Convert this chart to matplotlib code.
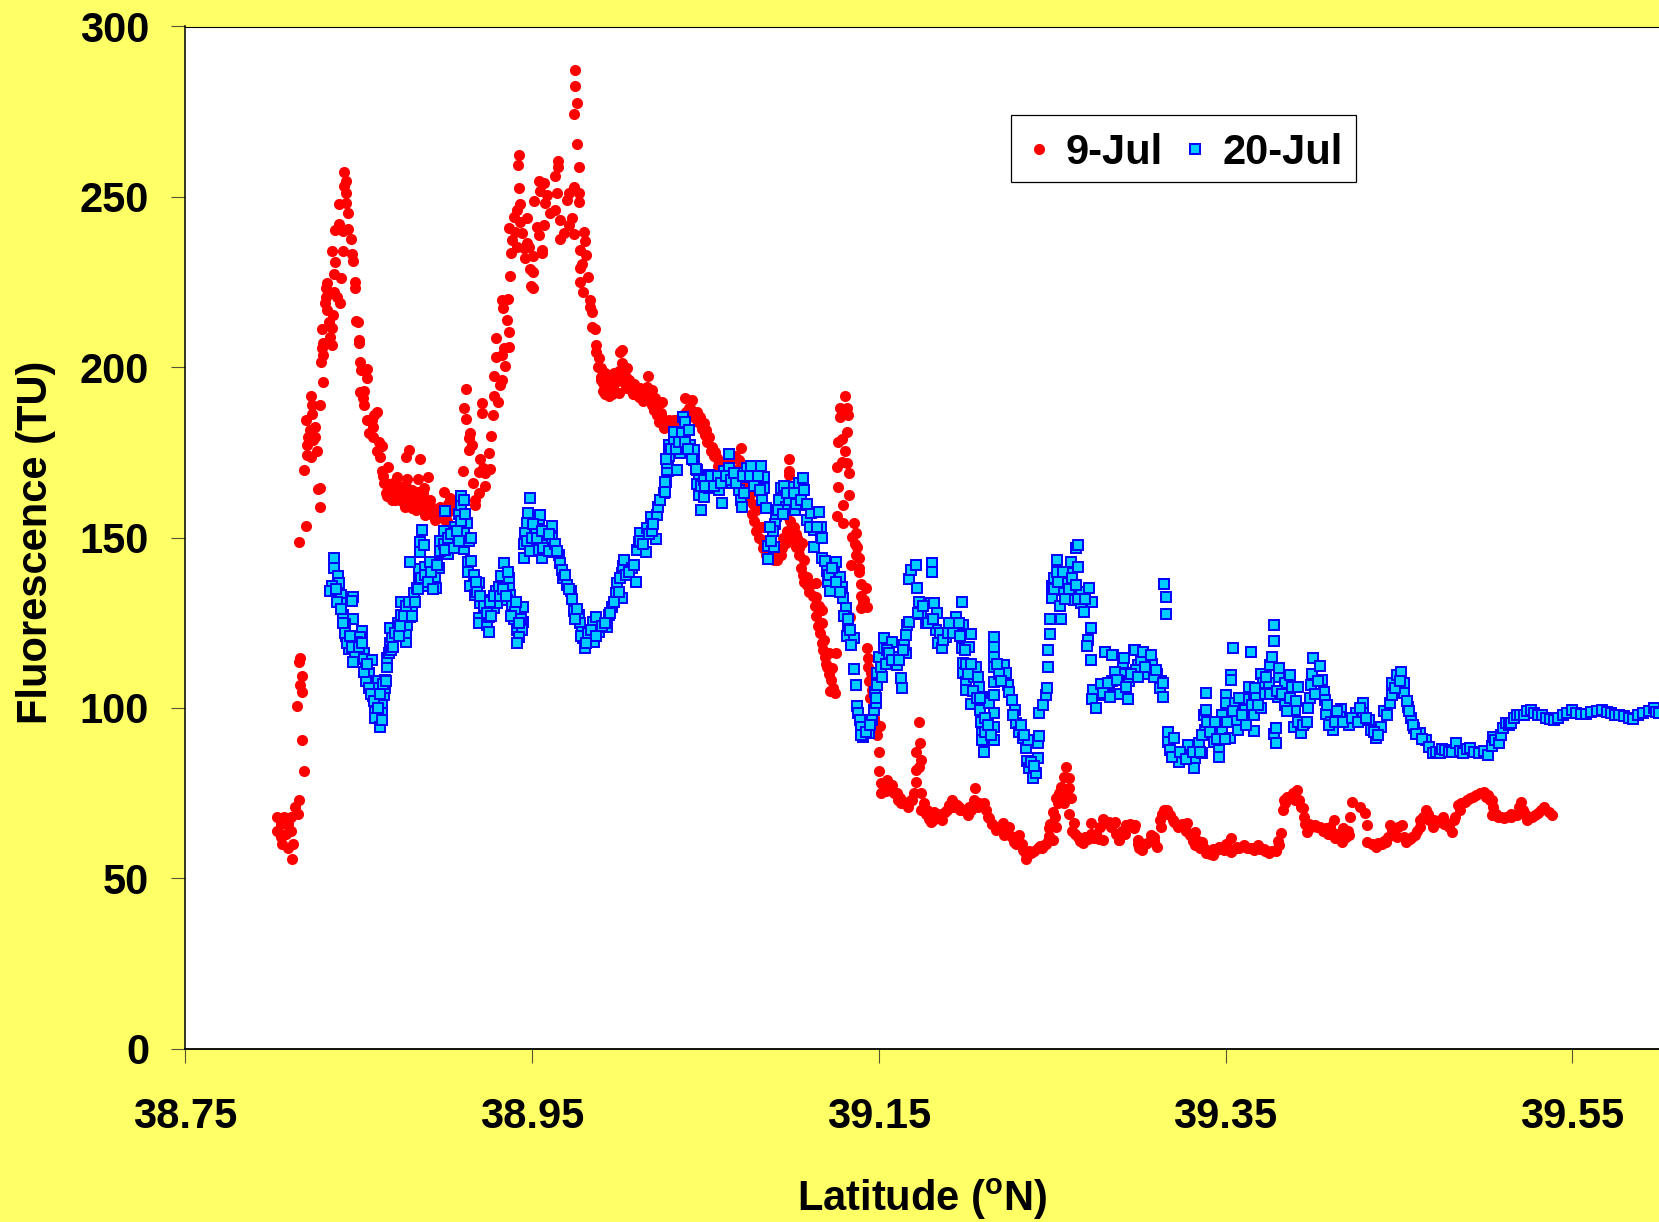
#!/usr/bin/env python3
"""Fluorescence vs latitude for two survey dates (values read off the original chart)."""

import matplotlib
matplotlib.use("Agg")
import matplotlib.pyplot as plt

BG = "#FFFF66"

# (latitude, fluorescence) readings, 9-Jul, south to north
red_south = [(38.8114,55.6),(38.806,60),(38.809,59),(38.812,60),(38.805,62),(38.808,63),(38.803,64),(38.811,64),
 (38.805,66),(38.809,66),(38.803,68),(38.807,68),(38.811,68),(38.815,69),(38.813,71),(38.8153,73),
 (38.8184,81.4),(38.8174,90.7),(38.8143,100.6),(38.8174,104.6),(38.8163,106.7),(38.8174,109.3),(38.8163,114.6),(38.8153,113.4),
 (38.8155,148.7),(38.8195,153.3),(38.8276,159),(38.8266,164.3),(38.8276,164.7),(38.8184,169.9)]
red_peak1 = [(38.8224,173.8),(38.82,174.2),(38.8262,175.5),(38.82,177.2),(38.8239,178.7),(38.821,179.6),(38.8249,179.6),(38.822,181.6),
 (38.8249,182.6),(38.8195,184.4),(38.8233,186.3),(38.8278,188.9),(38.8229,188.9),(38.8224,191.6),(38.8297,195.8),(38.8285,201.4),
 (38.8297,203.6),(38.8287,205.6),(38.8297,207.2),(38.8349,206.5),(38.8335,209),(38.8287,211.1),(38.8345,211.4),(38.8326,213.4),
 (38.835,215.4),(38.8316,216.8),(38.8393,218.8),(38.8306,218.8),(38.831,220.7),(38.8374,220.7),(38.8358,222.2),(38.8312,223.2),
 (38.8316,224.8),(38.8397,226.2),(38.8355,227.3),(38.848,223.2),(38.848,225.1),(38.847,231.3),(38.8364,230.8),(38.8345,234),
 (38.8408,234.1),(38.846,233.2),(38.8364,240.3),(38.8389,241.9),(38.8412,240.1),(38.8441,240.6),(38.8455,237.6),(38.8389,247.9),
 (38.8428,248.3),(38.8439,245.4),(38.8426,251),(38.8416,253.2),(38.8426,254.8),(38.8416,257.2)]
red_trough = [(38.8495,213.4),(38.8485,213.7),(38.8499,208),(38.8499,207),(38.851,201.5),(38.8514,199.2),(38.855,199.4),(38.855,196.7),
 (38.8509,192.6),(38.8532,193.1),(38.8524,190.9),(38.8532,188.9),(38.8603,187),(38.8586,186),(38.8547,184.5),(38.8576,184.5),
 (38.8582,182.6),(38.8559,180.8),(38.8582,179.6),(38.8618,178.2),(38.8634,176.9),(38.8605,175.5),(38.8624,173.8),(38.8793,175.7),
 (38.8774,173.6),(38.8855,173),(38.8672,170.8),(38.8634,169.4),(38.8647,165.9),(38.872,167.9),(38.8778,167.1),(38.8897,167.9),
 (38.884,167.1),(38.8874,164.5),(38.8663,162.2),(38.8701,163),(38.874,161),(38.8797,162),(38.8836,160.5),(38.8759,160.1),
 (38.8807,158.6),(38.872,164),(38.8778,164.5),(38.8845,163.5),(38.8884,160.5),(38.8913,159.6),(38.8903,157.1),(38.8942,155.2),
 (38.899,163.5),(38.9028,161.5),(38.8971,159.1),(38.9,155.2),(38.9009,157.1),(38.8951,156.1),(38.868,165),(38.869,161),
 (38.8755,163.5),(38.882,161),(38.886,158.5),(38.892,157),(38.9035,158),(38.9015,160),
 (38.864,168),(38.866,166),(38.868,164),(38.870,166),(38.871,161),(38.873,165),(38.875,163),(38.877,159),(38.879,160),(38.881,164),
 (38.883,158),(38.885,161),(38.887,163),(38.889,158),(38.891,161),(38.893,158),(38.895,158),(38.897,156),(38.899,157),(38.901,155),
 (38.903,158),(38.905,160),(38.866,163),(38.878,162),(38.882,159),(38.888,156.5)]
red_peak2 = [(38.917,159.6),(38.9172,161),(38.9192,163),(38.9159,166.1),(38.923,165.2),(38.9101,169.4),(38.9192,169.2),(38.923,168.9),
 (38.9259,170.1),(38.9217,170.3),(38.9202,173),(38.9253,174.9),(38.9134,175.7),(38.9153,177.2),(38.9134,179.2),(38.9144,180.8),
 (38.9263,179.8),(38.9121,184.8),(38.911,187.9),(38.9121,193.6),(38.9211,186.5),(38.9211,189.6),(38.9273,185.9),(38.9304,189.9),
 (38.9282,191.6),(38.9313,194.8),(38.9278,197.3),(38.9327,196.3),(38.9346,200.4),(38.9294,203.1),(38.9327,203.6),(38.9365,206),
 (38.934,205.6),(38.9294,208.7),(38.9365,210.2),(38.9356,213.9),(38.9332,217.5),(38.9327,219.8),(38.9359,220.1),(38.9375,226.8),
 (38.9381,233.6),(38.9413,235.4),(38.9384,237.4),(38.9365,240.8),(38.9404,239.8),(38.9442,239.3),(38.9471,236.4),(38.9452,234.9),
 (38.9481,235.4),(38.9461,232),(38.9506,232.5),(38.9486,228.8),(38.9506,227.9),(38.9494,223.9),(38.9506,223.2),(38.9558,234.4),
 (38.9558,233.4),(38.9538,238.8),(38.9567,241.8),(38.9529,241.3),(38.9471,243.7),(38.9433,242.7),(38.9394,244.2),(38.9413,246.2),
 (38.9433,247.9),(38.9425,252.6),(38.9417,259.3),(38.9425,262.4),(38.9513,248.9),(38.9548,251.8),(38.9538,254.7),(38.9571,254.2),
 (38.9577,248.1),(38.9606,245.2),(38.9587,250.6),(38.9635,246.2),(38.9644,251.1),(38.9635,256),(38.9648,258.9),(38.9648,260.4),
 (38.966,243.2),(38.966,237.7),(38.9683,239.3),(38.9712,241.8),(38.9731,243.7),(38.9702,249.1),(38.9712,251.1),(38.9741,253),
 (38.9769,251.1),(38.9773,248.5),(38.9741,239.1),(38.9771,258.8),(38.976,265.4),(38.974,274.4),(38.976,277.5),(38.975,282.6),(38.975,287.3)]
red_shelf = [(38.9802,239.8),(38.9808,237.1),(38.9779,234.4),(38.9814,233),(38.9789,230.3),(38.9779,229),(38.9821,226.4),(38.9779,225.1),
 (38.9792,222.2),(38.9833,219.6),(38.9833,217.8),(38.9845,216.3),(38.9846,211.9),(38.9862,211.1),(38.9871,206.5),(38.9866,204.6),
 (38.9885,202.6),(39.0021,205.1),(39.001,204.4),(38.9895,199.7),(38.9923,198.2),(38.9895,196.3),(38.9933,194.3),(38.9943,191.6),
 (38.9971,198.2),(38.9962,195.3),(39.0,192.3),(39.002,201.2),(39.0049,199.7),(39.001,197.2),(39.0058,196.3),(39.0068,193.3),
 (39.0116,191.4),(39.017,197.3),(39.0164,194.3),(39.0135,192.8),(39.0193,193.3),(39.0212,189.4),(39.025,189.9),(39.0203,187.5),
 (39.0241,186.5),(39.026,182.1),(39.0289,184.5),(39.0337,184.5),(38.991,193),(38.995,193),(38.998,196),(39.004,194),
 (39.009,195),(39.0095,192),(39.0155,191),(39.0225,187),
 (38.988,200),(38.990,197),(38.991,195.5),(38.992,192),(38.994,195),(38.995,197),(38.996,192),(38.997,195),(38.999,196),(39.0,199),
 (39.002,196),(39.003,198),(39.004,197),(39.006,194),(39.008,192),(39.010,193),(39.012,194),(39.014,190),(39.015,193),(39.018,192),
 (39.019,189),(39.021,191),(39.022,186),(39.023,184),(39.025,185),(39.027,184),(39.03,183),(39.032,183),(39.035,183),(39.037,186)]
red_descent = [(39.0164,193.3),(39.024,189.4),(39.0202,187.5),(39.026,182.6),(39.0318,184.5),(39.0385,190.9),(39.0423,190.4),(39.0452,187),
 (39.0491,183.6),(39.052,179.6),(39.0539,176.7),(39.0568,173.3),(39.0587,171.3),(39.0703,176.2),(39.0693,172.8),(39.0635,171.8),
 (39.0722,169.8),(39.076,163),(39.0789,158.1),(39.0808,153.2),(39.0828,149.3),(39.0895,143.4),(39.0934,144.9),(39.0962,148.3),
 (39.0982,173),(39.0982,169.4),(39.0982,168.4),(39.0991,165),(39.0962,156.6),(39.1011,153.2),(39.102,147.3),(39.1058,148.3),
 (39.1068,143.4),(39.1087,138.5),(39.1087,136.1),(39.1135,136.6),(39.1135,132.7),(39.1174,128.8),(39.1174,124.8),(39.1184,119.9),
 (39.1213,116),(39.1251,116),(39.1232,111.6),(39.1222,108.2),(39.1245,104.3),(39.0405,188),(39.0437,185),(39.047,185.5),
 (39.0505,181.5),(39.0553,175),(39.0775,160),(39.083,153),(39.0855,147),(39.0875,144),(39.1,150),(39.104,145),
 (39.11,134),(39.1155,130),(39.1195,113),(39.1235,106),
 (39.039,187),(39.041,188),(39.044,186),(39.046,184),(39.048,182),(39.05,180),(39.051,178),(39.053,175.5),(39.055,174),(39.057,171),
 (39.06,170),(39.062,172),(39.065,173),(39.067,174),(39.069,170),(39.071,167),(39.073,165),(39.075,161),(39.077,157),(39.078,155),
 (39.079,152),(39.081,150),(39.083,147),(39.085,145),(39.087,144),(39.091,143.5),(39.092,146),(39.094,147),(39.095,150),(39.097,152),
 (39.099,155),(39.1,151),(39.102,151),(39.103,150),(39.104,147),(39.105,141),(39.106,139),(39.107,137),(39.109,136),(39.111,136.5),
 (39.112,133),(39.113,130),(39.114,127),(39.115,124),(39.116,122),(39.117,119),(39.118,117),(39.119,115),(39.12,112),(39.121,110),(39.122,105)]
red_spike = [(39.1307,191.7),(39.1276,188),(39.1318,188),(39.1276,185.3),(39.1322,186),(39.1318,180.9),(39.1265,178.2),(39.129,178.8),
 (39.1307,175.5),(39.1286,172.3),(39.1318,172),(39.1261,170.8),(39.1328,169.1),(39.1267,164.8),(39.1328,162.5),(39.1295,159.5),
 (39.1257,156.4),(39.1295,154.2),(39.1357,154.4),(39.1367,151.3),(39.1347,150.3),(39.1376,147.3),(39.1386,143.9),(39.1338,142),
 (39.1388,139.8),(39.1395,136.4),(39.1424,135.1),(39.1415,131.7),(39.1395,129.2),(39.1434,129.7),(39.1334,126.8),(39.143,117.7),
 (39.144,114.6),(39.1453,110.2),(39.1463,105.3),(39.1473,100.4),(39.1507,94.7),
 (39.136,148),(39.137,145),(39.1385,141),(39.14,133),(39.141,131),(39.1435,112),(39.1445,108),(39.145,103),(39.147,97),(39.148,95.5),(39.149,92)]
red_plateau = [(39.1734,95.9),(39.1501,87.2),(39.1499,81.5),(39.1511,77.9),(39.1515,74.9),(39.155,78.9),(39.1578,77.4),(39.1607,74.9),
 (39.1646,72.5),(39.1665,72),(39.1704,74.9),(39.1713,78.4),(39.1732,82.8),(39.1713,81.8),(39.1742,84.7),(39.1713,87.2),
 (39.1738,89.6),(39.1761,72),(39.1742,70),(39.18,66.6),(39.1819,69.6),(39.1867,67.1),(39.1896,70),(39.1925,73),
 (39.1963,71),(39.2012,68.6),(39.2021,71),(39.2056,76.4),(39.205,73),(39.2108,72),(39.2137,67.6),(39.2175,64.2),
 (39.2214,66.1),(39.2252,65.2),(39.2223,62.7),(39.231,62.7),(39.2281,60.7),(39.2329,58.3),(39.2348,55.6),(39.2377,57.3),
 (39.2416,58.8),(39.2454,59.8),(39.2502,61.2),(39.2483,64.7),(39.2522,65.2),(39.2502,69.6),(39.2522,73.5),(39.2551,76.9),
 (39.2608,73.5),(39.2599,76.4),(39.2599,79.3),(39.2566,79.8),(39.258,82.8),(39.2599,69),(39.2628,66.1),(39.2647,62.2),
 (39.2676,60.3),(39.2724,66.1),(39.2743,61.7),(39.2791,61.2),(39.2791,67.3),(39.2859,66.1),(39.2887,61.2),(39.2926,65.6),
 (39.2974,64.7),(39.3003,58.8),(39.1532,76),(39.1625,73.5),(39.1685,73),(39.178,70),(39.1845,68),(39.1905,71.5),
 (39.199,70),(39.208,72),(39.2155,66),(39.2195,64.5),(39.2265,62.5),(39.2365,58),(39.244,59),(39.248,62.5),
 (39.2665,61),(39.2705,61.5),(39.277,61.5),(39.2825,66.5),(39.2905,64),
 (39.1525,78),(39.154,75.5),(39.156,76),(39.159,75),(39.161,73),(39.163,72),(39.167,71),(39.169,73),(39.1745,75),(39.177,69),
 (39.179,67.5),(39.181,67),(39.183,68),(39.186,69),(39.188,69.5),(39.191,71),(39.193,71),(39.195,71.5),(39.197,70),(39.1995,70),
 (39.203,70),(39.204,71),(39.207,71),(39.209,71.5),(39.212,70),(39.213,68),(39.215,66),(39.218,65),(39.2235,64),(39.227,62),
 (39.229,60),(39.23,61),(39.2325,60),(39.234,58),(39.235,57),(39.2395,58),(39.243,59.5),(39.2465,60),(39.2475,61),(39.249,66),
 (39.2515,68),(39.2535,72),(39.254,75),(39.2565,75),(39.257,72),(39.2615,64),(39.263,63),(39.266,61),(39.269,62),(39.2725,63),
 (39.275,63),(39.2775,65),(39.284,65),(39.287,63),(39.2895,63),(39.292,63),(39.295,66),(39.2995,60)]
red_north = [(39.2863,66.6),(39.2884,61.2),(39.2925,65.7),(39.2977,65.7),(39.3018,58.3),(39.2997,61.2),(39.3069,62.7),(39.3106,59.3),
 (39.3121,67.1),(39.3147,70),(39.3182,68.6),(39.3223,65.2),(39.3275,66.2),(39.3295,62.7),(39.3326,63.7),(39.3326,59.8),
 (39.3367,60.8),(39.3388,57.3),(39.3429,56.8),(39.346,59.3),(39.3491,58.3),(39.3532,61.7),(39.3532,57.8),(39.3604,59.8),
 (39.3666,58.3),(39.3687,59.8),(39.3748,57.3),(39.3789,58.3),(39.382,63.2),(39.381,59.8),(39.3831,70),(39.3862,73.5),
 (39.3913,75.9),(39.3903,73),(39.3944,70.5),(39.3954,68.1),(39.397,63.7),(39.4016,65.7),(39.4078,64.7),(39.4123,67.1),
 (39.4129,61.7),(39.418,64.7),(39.417,60.8),(39.4211,62.7),(39.4215,67.9),(39.4228,72.5),(39.4273,71),(39.4304,69.1),
 (39.4314,65.7),(39.4314,60.8),(39.4366,59.3),(39.4428,60.8),(39.4448,65.7),(39.452,65.7),(39.454,60.8),(39.4592,62.7),
 (39.4623,67.1),(39.4654,70),(39.4695,65.2),(39.4757,68.1),(39.4808,63.7),(39.4818,67.1),(39.4839,71.5),(39.488,72.5),
 (39.4942,74.5),(39.4993,75.4),(39.5034,73),(39.5034,68.6),(39.5106,67.6),(39.5179,68.6),(39.5205,72.5),(39.524,67.1),
 (39.5302,69.1),(39.5339,70.8),(39.5384,68.6),(39.3045,60.5),(39.309,62),(39.3165,69),(39.3205,66.5),(39.325,66),
 (39.331,62),(39.335,59),(39.341,57),(39.344,58),(39.351,59),(39.3565,59.3),(39.3635,59),(39.372,58.5),
 (39.3845,72),(39.389,75),(39.3925,73),(39.399,65),(39.4045,65),(39.41,65),(39.415,63),(39.4195,62),
 (39.4345,60),(39.44,60),(39.4475,64.5),(39.4495,65),(39.4565,61.5),(39.4605,64),(39.4675,67),(39.4725,66.5),
 (39.478,66),(39.486,72),(39.491,73.5),(39.4965,75),(39.5015,74.5),(39.507,68),(39.5145,68),(39.5225,69),(39.527,68),(39.5365,69.5),
 (39.3035,60),(39.3085,61),(39.3125,65),(39.3135,69),(39.316,70),(39.3195,67),(39.3245,65.5),(39.327,64),(39.3315,61),(39.334,61),
 (39.3375,59),(39.34,58),(39.343,58.5),(39.3475,58.5),(39.35,60),(39.355,58.5),(39.358,59),(39.3625,59),(39.365,59),(39.37,58.7),
 (39.3725,58),(39.376,58),(39.379,58),(39.3805,61),(39.3835,73),(39.3855,74),(39.388,74),(39.3935,71),(39.396,66),(39.398,66),
 (39.4,65.5),(39.403,65),(39.406,64),(39.409,63),(39.411,64),(39.4135,63),(39.4165,62),(39.419,62),(39.4205,64),(39.438,60.5),
 (39.4415,61),(39.4435,62),(39.446,64),(39.449,62),(39.453,62),(39.4575,62),(39.462,65),(39.464,68),(39.4665,69),(39.4705,67),
 (39.474,67),(39.476,66),(39.479,65),(39.4825,68),(39.485,70),(39.4895,73),(39.4925,74),(39.4975,75),(39.5,74),(39.5025,73),
 (39.5045,71),(39.506,69),(39.509,68),(39.512,68),(39.5145,69),(39.5195,71),(39.5215,70),(39.5255,68),(39.5285,68.5),(39.532,70)]

# (latitude, fluorescence) readings, 20-Jul
blue_south = [(38.8359,144),(38.8359,141),(38.8378,138.7),(38.8388,136.6),(38.8345,135.8),(38.8336,134.2),(38.8399,133.2),(38.8399,130.7),
 (38.8467,132.7),(38.8461,131.5),(38.8409,127.4),(38.8467,126.1),(38.8419,124.6),(38.8521,122.7),(38.8428,121.2),(38.851,120.9),
 (38.849,119.5),(38.8447,117.2),(38.848,115.1),(38.8532,116),(38.8532,114.4),(38.8576,114.1),(38.8544,111.8),(38.8557,110.2),
 (38.854,107.8),(38.8609,107.8),(38.8653,108.2),(38.8582,105.8),(38.8582,103.5),(38.8644,103.8),(38.8653,105.8),(38.8634,100.9),
 (38.8592,98.9),(38.8634,98.4),(38.8592,97),(38.8621,94.3),(38.8661,111.9),(38.8661,114.6),(38.8673,116.2),(38.8775,119.3),
 (38.8682,119),(38.8692,120.9),(38.8682,123.6),(38.8725,125),(38.8746,127.3),(38.8775,121.9),(38.8779,124.4),(38.8798,126.6),
 (38.8746,131),(38.8807,129.7),(38.8817,133.7),(38.8836,135.1),(38.8886,135.8),(38.8948,135.1),(38.8846,138.3),(38.8846,140.7),
 (38.8794,142.9),(38.8884,141.5),(38.8938,138.3),(38.8961,141),(38.8913,142.9),(38.8856,145.9),(38.8967,145.6),(38.9013,145.2),
 (38.8856,148.8),(38.8875,147.8),(38.8967,149.1),(38.899,151.8),(38.9025,148.1),(38.8865,152.2),(38.9058,150.8),(38.9058,153),
 (38.911,146.6),(38.9102,148.8),(38.9135,149.1),(38.911,151.3),(38.9123,154.4),(38.8998,157.9),(38.9081,156.9),(38.909,159.6),
 (38.909,162.2),(38.9106,161),
 (38.837,135),(38.8375,131),(38.84,129),(38.841,125),(38.842,122),(38.843,119),(38.845,121),(38.846,118),(38.847,113.5),(38.85,118),
 (38.852,119),(38.853,110.5),(38.855,113),(38.856,106),(38.857,104),(38.859,102),(38.861,100),(38.8625,104),(38.864,107),(38.8635,96.5),
 (38.866,108),(38.8685,117),(38.87,118),(38.871,122),(38.873,121),(38.874,124),(38.876,127),(38.8775,130),(38.879,131),(38.881,127),
 (38.8825,131),(38.884,135),(38.886,138),(38.888,139),(38.89,137),(38.892,140),(38.893,135),(38.895,142),(38.897,146),(38.899,148),
 (38.9,146.5),(38.9015,150),(38.903,151),(38.905,147),(38.9065,152),(38.908,149),(38.909,155),(38.9115,157),(38.9145,150)]
blue_dip1 = [(38.9131,142.9),(38.9131,139.8),(38.9163,139),(38.9144,135.8),(38.9192,136.6),(38.9173,133.2),(38.9202,130.7),(38.9231,131.7),
 (38.9221,128.3),(38.9192,126.3),(38.9192,124.8),(38.924,124.3),(38.9252,122.2),(38.925,126.8),(38.9279,129.3),(38.9298,130.7),
 (38.9294,134.2),(38.9308,135.6),(38.9323,138.8),(38.9337,142.5),(38.9366,138),(38.9366,135.1),(38.9375,133.2),(38.9356,131.7),
 (38.9385,130.2),(38.9448,129.6),(38.9404,128.3),(38.9395,126),(38.9448,125.3),(38.9414,122.9),(38.9443,122.9),(38.9423,120.9),(38.9414,119.2),
 (38.915,143),(38.9175,137),(38.9185,134),(38.92,133),(38.922,130),(38.924,128),(38.926,131),(38.9265,127),(38.928,133),(38.9315,133),
 (38.933,135),(38.935,133),(38.936,140),(38.938,127),(38.9405,131),(38.9435,126),(38.9425,125)]
blue_dip2 = [(38.9456,143.9),(38.9456,148),(38.9462,151.3),(38.9468,154.4),(38.9475,157.3),(38.9487,161.6),(38.9516,147.8),(38.952,152.7),
 (38.9539,155.5),(38.9548,156.6),(38.9558,144),(38.9572,150.3),(38.9587,147.8),(38.9616,149.8),(38.9616,153.4),(38.9626,145.9),
 (38.9654,144.9),(38.9664,142.5),(38.9674,140.5),(38.9679,138),(38.9703,136.1),(38.9722,134.2),(38.9731,131.9),(38.9741,128.6),
 (38.977,127.3),(38.9776,124.8),(38.979,122.4),(38.9795,120.4),(38.9803,117.5),(38.9837,120),(38.9857,119.5),(38.9853,125.3),
 (38.9866,126.8),(38.9885,122.4),(38.9934,123.9),(38.9943,127.3),(38.9962,129.7),(38.9982,133.7),(38.9991,136.6),(39.002,132.2),
 (39.0016,139.5),(39.0026,141.7),(39.003,143.4),(39.0078,141),(39.0097,137),(39.0107,146.4),(39.0116,148.8),(39.012,151.3),
 (39.0155,145.9),(39.0213,149.6),(39.0164,152.7),(39.0188,156),(39.0222,156.6),(39.0238,161),(39.026,163),(39.027,166.2),
 (39.0284,169.4),(39.0284,171.8),(39.029,174.3),(39.029,177.2),
 (38.947,149),(38.949,146),(38.95,150),(38.9505,154),(38.953,150),(38.954,146.5),(38.9555,152),(38.9565,147),(38.9595,151),(38.96,146),
 (38.963,148),(38.9645,146),(38.969,139),(38.9715,135),(38.975,126),(38.976,129),(38.978,121),(38.981,119),(38.982,122),(38.984,123),
 (38.987,121),(38.9905,124),(38.992,125),(38.995,128),(38.997,131),(39.0,134),(39.001,138),(39.004,139),(39.006,140),(39.009,142),
 (39.0125,149),(39.014,148),(39.0175,151),(39.019,152),(39.02,154),(39.0225,159)]
blue_crest = [(39.024,161),(39.0264,163.5),(39.0269,166.4),(39.0279,169.8),(39.0279,171.8),(39.0289,174),(39.0289,177.2),(39.0318,178.7),
 (39.0318,181.1),(39.0337,169.8),(39.0356,174.7),(39.0366,180.8),(39.0371,185.5),(39.0385,184),(39.0404,181.6),(39.041,177.2),
 (39.0433,175.7),(39.0433,172.8),(39.0452,169.8),(39.0462,166.9),(39.0452,165.7),(39.0462,162.5),(39.0472,158.1),(39.0491,162),
 (39.052,168.4),(39.052,164.5),(39.0568,167.4),(39.0577,164),(39.0593,160.1),(39.0606,169.4),(39.0635,174.5),(39.0635,170.3),
 (39.0654,165.9),(39.0683,168.9),(39.0693,164),(39.0703,161),(39.0712,159.1),(39.0741,170.3),(39.0737,167.9),(39.078,165.2),
 (39.0789,168.4),(39.0818,171),(39.0828,161),(39.0837,167.9),(39.0837,164.5),(39.0851,158.6),(39.0908,156.2),(39.0899,154),
 (39.0889,151.8),(39.086,147.6),(39.086,143.6),(39.0895,147.3),(39.0934,164.5),(39.0924,161),(39.0962,159.1),(39.0991,164.8),
 (39.0982,161),(39.1014,158.1),(39.1039,165.9),(39.1064,167.4),(39.1068,164),(39.1068,159.6),(39.1087,155.2),(39.1107,157.1),
 (39.1155,157.4),(39.1126,152.2),(39.1165,153.2),(39.1165,149.8),(39.1126,147.3),(39.1174,143.9),(39.1251,142.9),(39.1199,140.3),
 (39.1241,140),(39.1207,136.9),(39.1276,138.5),(39.1286,135.6),(39.1216,134.2),(39.1295,132.2),(39.1309,129.2),(39.13,127),
 (39.1322,123.4),(39.1318,121.1),(39.1357,120.4),(39.1338,118.5),
 (39.0275,173),(39.03,176),(39.033,176),(39.0345,178),(39.0385,178),(39.04,176),(39.042,173),(39.0445,170),(39.0475,165),(39.049,167),
 (39.05,165),(39.0535,168),(39.055,165),(39.0575,168),(39.059,166),(39.062,168),(39.0645,167),(39.0665,169),(39.0675,166),(39.0715,168),
 (39.0725,163),(39.0755,168),(39.0765,171),(39.0805,168),(39.0815,164),(39.0875,153),(39.088,149),(39.092,158),(39.0945,157),(39.0955,165),
 (39.097,163),(39.101,163),(39.1025,160),(39.105,161),(39.1085,160),(39.1105,153),(39.1145,153),(39.1175,150),(39.119,143),(39.1215,139),
 (39.123,141),(39.1255,137),(39.1275,134),(39.132,126),(39.1335,123)]
blue_mid = [(39.1357,111.3),(39.1371,106.8),(39.1372,100.6),(39.138,98.4),(39.139,96.5),(39.1396,94.5),(39.1411,91.6),(39.1444,92.6),
 (39.1463,96.5),(39.1473,99.4),(39.1482,101.5),(39.1478,104.6),(39.1492,106.8),(39.1492,110.4),(39.152,109.2),(39.1501,115),
 (39.153,120.4),(39.153,117.5),(39.1578,119.5),(39.1559,113.6),(39.1598,115),(39.1607,112.6),(39.1627,108.7),(39.1632,105.8),
 (39.1655,116),(39.1646,118.5),(39.1655,121.4),(39.1665,124.4),(39.1675,125.3),(39.1675,137.9),(39.1684,140.5),(39.1713,142),
 (39.1809,142.5),(39.1809,139.8),(39.1723,135.1),(39.1732,131.2),(39.1746,127.5),(39.1771,124.8),(39.18,130.7),(39.182,130.7),
 (39.1838,127.8),(39.1829,122.9),(39.1842,119),(39.1867,117.5),(39.1886,120.9),(39.1915,123.9),(39.1944,126.8),(39.1979,131.2),
 (39.1983,124.4),(39.2031,121.7),(39.1979,117.5),(39.2021,118),(39.1983,113.1),(39.1983,110.2),(39.2002,107.7),(39.2002,105.3),
 (39.2031,101.2),(39.206,112.1),(39.205,109.2),(39.2079,106.3),(39.2098,103.3),(39.2085,99.4),(39.2092,96),(39.2098,92.6),
 (39.2098,90.6),(39.2107,87.2),(39.2136,101.4),(39.2162,98.4),(39.2162,94.5),(39.2162,90.6),(39.2162,103.8),(39.2162,107.7),
 (39.2165,112.1),(39.2165,115),(39.2165,118),(39.2165,120.9),(39.2223,112.6),(39.2233,110.2),(39.2243,106.7),(39.2252,104.8),
 (39.2266,102.3),(39.2285,99.4),(39.2291,95.5),(39.231,93),(39.233,91.1),(39.2349,88.2),(39.2358,90.6),(39.2354,84.5),
 (39.2368,82.3),(39.2387,79.3),(39.2406,80.8),(39.2416,85.2),(39.2416,89.6),(39.2425,91.9),(39.2425,98.4),(39.2445,100.9),
 (39.2464,103.8),(39.2468,106),(39.2474,111.9),(39.2477,117),(39.2489,121.7),(39.2489,126),(39.2551,126),(39.2497,132.2),
 (39.2497,135.8),(39.2508,138),(39.2527,140),(39.2527,143.4),(39.2547,129.9),(39.256,134.6),(39.258,136.6),(39.2608,142.9),
 (39.2608,139.5),(39.2618,134.6),(39.2637,146.9),(39.2651,147.8),(39.2651,141.5),(39.2628,131.7),(39.2666,134.1),(39.2666,130.7),
 (39.2714,135.3),(39.2728,131.2),(39.2681,128.3),(39.2724,123.4),(39.2705,120),(39.2701,118.2),(39.2724,114.1),(39.2733,105.3),
 (39.2727,102.5),(39.2753,99.9),(39.2791,103.8),(39.281,105.8),(39.2829,106.8),(39.2804,116.5),(39.2849,115.5),(39.2868,110.7),
 (39.2878,108.7),(39.2926,106.3),(39.2936,102.5),(39.2907,113.1),(39.2955,110.2),(39.2974,117),(39.2993,112.6),
 (39.14,92),(39.1425,93),(39.145,95),(39.1485,103),(39.151,112),(39.154,113),(39.1545,117),(39.156,116),(39.1575,114),(39.1615,114),
 (39.164,117),(39.1725,128),(39.1755,130),(39.1785,125),(39.181,126),(39.1855,122),(39.187,120),(39.19,122),(39.1905,125),(39.193,122),
 (39.196,125),(39.197,121),(39.2,117),(39.2005,113),(39.2015,110),(39.203,113),(39.2045,105),(39.2065,103),(39.2075,109),(39.2085,103),
 (39.211,93),(39.2115,97),(39.213,95),(39.2145,92),(39.218,113),(39.2195,110),(39.2205,108),(39.2275,98),(39.232,95),(39.234,92),
 (39.2375,84),(39.2395,83),(39.251,135),(39.2535,137),(39.2565,140),(39.2575,132),(39.2595,135),(39.2615,138),(39.264,136),(39.265,132),
 (39.269,132),(39.278,107),(39.2845,108),(39.289,104),(39.291,110),(39.2945,108),(39.2985,111),(39.3015,114),(39.305,110),(39.3075,113),
 (39.3105,110),(39.3125,108)]
blue_north = [(39.2802,116.5),(39.2843,115.6),(39.2791,104.3),(39.2822,107.2),(39.2832,103.3),(39.2863,110.7),(39.2874,108.2),(39.2915,114.6),
 (39.2925,106.3),(39.2935,102.6),(39.2956,110),(39.2977,117),(39.2997,109.2),(39.3024,116.5),(39.3038,112.1),(39.3069,115.6),
 (39.309,109.2),(39.31,111.2),(39.3121,105.8),(39.3141,107.2),(39.3141,103.3),(39.3147,136.3),(39.3158,132.7),(39.3158,127.5),
 (39.3168,92.9),(39.3168,90.1),(39.3182,87.7),(39.3203,91.1),(39.3213,85.7),(39.323,84.2),(39.3265,86.7),(39.3281,89.2),
 (39.3295,85.7),(39.332,82.3),(39.3326,85.2),(39.3347,89.6),(39.3367,86.7),(39.3374,98),(39.3382,93.5),(39.339,104.3),
 (39.3388,99.4),(39.3435,90.1),(39.346,87.7),(39.3464,85.5),(39.3477,93.3),(39.3481,98),(39.3501,103.8),(39.3501,101.6),
 (39.3526,91.1),(39.3542,117.6),(39.3532,109.7),(39.3532,108.2),(39.3553,101.4),(39.356,96.5),(39.3573,93.5),(39.3604,102.6),
 (39.3615,99.4),(39.3645,116.5),(39.3635,106.3),(39.3666,93.3),(39.3666,98),(39.3676,103.3),(39.3707,110),(39.3707,99.9),
 (39.3717,107.2),(39.3759,112.6),(39.3779,124.4),(39.3779,119.7),(39.3769,115.1),(39.3748,107.2),(39.3779,92.3),(39.3789,89.6),
 (39.3789,94),(39.38,103.1),(39.381,109),(39.381,111.6),(39.3841,107.2),(39.3841,100.9),(39.3872,109.7),(39.3882,106.3),
 (39.3892,94.3),(39.3903,99.4),(39.3917,106.3),(39.3934,92.6),(39.3954,95.5),(39.3975,100.1),(39.3985,102.8),(39.3995,106.8),
 (39.4001,110),(39.4003,114.6),(39.4047,112.4),(39.4057,108.2),(39.4067,104.8),(39.4073,102.3),(39.4082,98.2),(39.4108,96),
 (39.4119,93.5),(39.4164,99.6),(39.416,97.4),(39.4211,95),(39.4252,98.4),(39.429,101.6),(39.4294,98.4),(39.4325,96.5),
 (39.4341,93.5),(39.4366,91.1),(39.4397,94.5),(39.4411,99.1),(39.4448,101.6),(39.4458,107.2),(39.4458,103.8),(39.4489,109.7),
 (39.451,110.7),(39.453,107.2),(39.453,104.3),(39.4551,100.4),(39.4571,97),(39.4588,94),(39.4623,92.6),(39.4654,90.6),
 (39.319,85.5),(39.324,87),(39.327,85),(39.331,87),(39.335,87),(39.3365,92),(39.3395,96),(39.341,93),(39.344,96),(39.345,91),
 (39.3495,91),(39.351,96),(39.3545,99),(39.358,103),(39.3595,98),(39.362,95),(39.365,101),(39.367,106),(39.3685,101),(39.3725,104),
 (39.3735,109),(39.3755,104),(39.3795,105),(39.3825,104),(39.3855,99),(39.387,103),(39.3905,102),(39.392,96),(39.3945,95),(39.397,96),
 (39.4015,104),(39.4035,108),(39.4085,101),(39.4095,95),(39.413,96),(39.414,99),(39.418,96),(39.423,97),(39.4265,96),(39.4275,100),
 (39.431,97),(39.4355,93),(39.438,92),(39.443,98),(39.4475,106),(39.4505,108),(39.4545,102),(39.456,99),(39.458,95),(39.46,92.5),(39.4635,91)]
blue_tail = [(39.4674,88.6),(39.4695,86.7),(39.4715,87),(39.4736,86.7),(39.475,88),(39.4767,87.7),(39.479,87),(39.4808,87.2),
 (39.4829,89.6),(39.485,87.5),(39.487,86.7),(39.489,88),(39.4911,88.2),(39.4935,87),(39.4962,86.7),(39.499,87.5),
 (39.5014,86.2),(39.5034,88.7),(39.504,91.6),(39.5055,90.5),(39.5076,89.6),(39.509,92),(39.5103,94),(39.5117,95.5),
 (39.5132,95),(39.5148,95.5),(39.5165,97),(39.5179,98),(39.52,98),(39.522,98),(39.524,99),(39.5261,99.4),
 (39.528,98.5),(39.53,98),(39.5323,98),(39.535,97),(39.537,96.8),(39.5395,96.5),(39.542,97),(39.5445,98),
 (39.5467,98.4),(39.5497,99.4),(39.552,98.5),(39.555,98.3),(39.558,98.2),(39.561,98.8),(39.564,99.2),(39.5673,99.4),
 (39.57,98.8),(39.5725,98.5),(39.5745,98),(39.577,97.8),(39.58,97.5),(39.5825,97.2),(39.5848,96.9),(39.588,97.8),
 (39.5909,98.4),(39.594,99.2),(39.5971,99.9),(39.5985,98.7),(39.6002,98.4)]

red_points = red_south + red_peak1 + red_trough + red_peak2 + red_shelf + red_descent + red_spike + red_plateau + red_north
blue_points = blue_south + blue_dip1 + blue_dip2 + blue_crest + blue_mid + blue_north + blue_tail

x_ticks = [38.75, 38.95, 39.15, 39.35, 39.55]
y_ticks = [0, 50, 100, 150, 200, 250, 300]

W, H = 1659, 1222
plt.rcParams["font.family"] = ["Liberation Sans", "DejaVu Sans"]
plt.rcParams["font.weight"] = "bold"
plt.rcParams["mathtext.fontset"] = "custom"
plt.rcParams["mathtext.bf"] = "Liberation Sans:bold"
plt.rcParams["mathtext.rm"] = "Liberation Sans:bold"

fig = plt.figure(figsize=(W / 100, H / 100), dpi=100, facecolor=BG)
ax = fig.add_axes([185.3 / W, 1 - 1048.7 / H, (W - 185.3) / W, (1048.7 - 26.5) / H])

ax.plot(*zip(*red_points), ls="none", marker="o", ms=8, mfc="#FF0000", mec="#FF0000", mew=0, label="9-Jul")
ax.plot(*zip(*blue_points), ls="none", marker="s", ms=6.6, mfc="#00CCFF", mec="#0000FF", mew=1.4, label="20-Jul")

ax.set_xlim(38.75, 39.6)
ax.set_ylim(0, 300)
ax.set_xticks(x_ticks)
ax.set_xticklabels([f"{v:.2f}" for v in x_ticks])
ax.set_yticks(y_ticks)
ax.tick_params(axis="x", length=10, width=0.8, color="#555533", labelsize=30, pad=25)
ax.tick_params(axis="y", length=10, width=0.8, color="#555533", labelsize=30, pad=16)
ax.spines["right"].set_visible(False)
ax.spines["top"].set_linewidth(0.8)
ax.spines["left"].set_linewidth(1.1)
ax.spines["bottom"].set_linewidth(1.3)

ax.set_xlabel(r"Latitude ($\mathbf{^o}$N)", fontsize=30, fontweight="bold")
ax.xaxis.set_label_coords(0.5, -0.1255)
ax.set_ylabel("Fluorescence (TU)", fontsize=30, fontweight="bold")
ax.yaxis.set_label_coords(-0.0875, 0.495)

leg = ax.legend(loc="lower left", bbox_to_anchor=(1011 / W, 1 - 182 / H), bbox_transform=fig.transFigure,
                ncol=2, frameon=True, fancybox=False, edgecolor="black", facecolor="white", framealpha=1,
                fontsize=30, borderaxespad=0, borderpad=0.32, handlelength=0.7, handletextpad=0.29,
                columnspacing=0.43, numpoints=1)
leg.get_frame().set_linewidth(0.9)
# legend row sits a touch low in the original box
for t in leg.get_texts():
    t.set_y(-4)
for h in leg.legend_handles:
    h.set_ydata([v - 3 for v in h.get_ydata()])

fig.savefig("out.png", dpi=100, facecolor=fig.get_facecolor())
print(f"[plot] wrote out.png, {len(red_points)} + {len(blue_points)} points")
